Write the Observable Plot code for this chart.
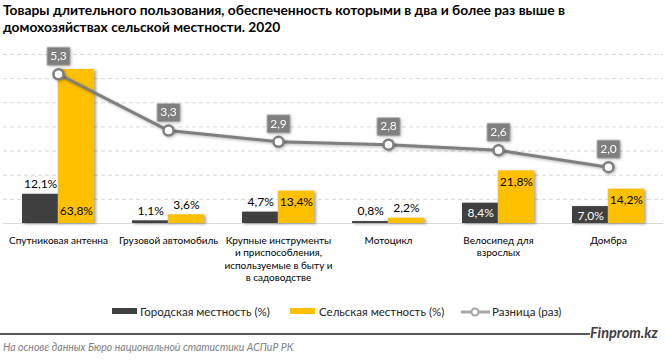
<!DOCTYPE html>
<html><head><meta charset="utf-8">
<script src="https://cdn.jsdelivr.net/npm/d3@7"></script>
<script src="https://cdn.jsdelivr.net/npm/@observablehq/plot@0.6"></script>
<style>
body{margin:0;background:#fff;font-family:Lato,"Open Sans",sans-serif;}
#wrap{position:relative;width:665px;height:360px;overflow:hidden;background:#fff;}
#title{position:absolute;left:3px;top:2px;font-weight:bold;font-size:13.8px;line-height:16.6px;color:#000;white-space:nowrap;}
#chart{position:absolute;left:0;top:40px;}
#chart g[aria-label="bar"]{filter:drop-shadow(2px 1px 1.5px rgba(0,0,0,0.35));}
#chart g[aria-label="line"], #chart g[aria-label="dot"]{filter:drop-shadow(1.5px 1.5px 1.5px rgba(0,0,0,0.3));}
.leg{position:absolute;font-size:11.5px;color:#262626;white-space:nowrap;line-height:14px;}
.sw{position:absolute;height:6px;width:25px;}
#foot{position:absolute;left:0;top:333px;width:590px;height:2px;background:#595959;}
#brand{position:absolute;left:590px;top:324px;font-weight:bold;font-style:italic;font-size:14.5px;color:#404040;}
#src{position:absolute;left:3px;top:341px;font-style:italic;font-size:10.5px;color:#808080;white-space:nowrap;}
</style></head><body>
<div id="wrap">
<div id="title">Товары длительного пользования, обеспеченность которыми в два и более раз выше в<br>домохозяйствах сельской местности. 2020</div>
<div id="chart"></div>
<div class="sw" style="left:112px;top:308px;background:#404040"></div>
<div class="leg" style="left:140px;top:305px">Городская местность (%)</div>
<div class="sw" style="left:290px;top:308px;background:#ffc000"></div>
<div class="leg" style="left:319px;top:305px">Сельская местность (%)</div>
<svg style="position:absolute;left:460px;top:305px" width="32" height="14"><line x1="1" y1="7" x2="30" y2="7" stroke="#a6a6a6" stroke-width="3"/><circle cx="15" cy="7" r="3.5" fill="#fff" stroke="#a6a6a6" stroke-width="2"/></svg>
<div class="leg" style="left:492px;top:305px">Разница (раз)</div>
<div id="foot"></div>
<div id="brand">Finprom.kz</div>
<div id="src">На основе данных Бюро национальной статистики АСПиР РК</div>
</div>
<script>
const categories = ["Спутниковая антенна","Грузовой автомобиль","Крупные инструменты и приспособления, используемые в быту и в садоводстве","Мотоцикл","Велосипед для взрослых","Домбра"];
const categoryLabels = ["Спутниковая антенна","Грузовой автомобиль","Крупные инструменты\nи приспособления,\nиспользуемые в быту и\nв садоводстве","Мотоцикл","Велосипед для\nвзрослых","Домбра"];
const urban = [12.1, 1.1, 4.7, 0.8, 8.4, 7.0];
const rural = [63.8, 3.6, 13.4, 2.2, 21.8, 14.2];
const ratio = [5.3, 3.3, 2.9, 2.8, 2.6, 2.0];
const urbanLabelPos = ["above","above","above","above","inside","inside"];
const ruralLabelPos = ["base","above","inside","above","inside","inside"];
const gridTicks = [10, 20, 30, 40, 50, 60, 70];
const barMax = 70;
const ratioMax = 6;

const rows = categories.map((c, i) => ({
  cat: c, urban: urban[i], rural: rural[i], ratio: ratio[i],
  ratioY: ratio[i] * barMax / ratioMax,
  uPos: urbanLabelPos[i], rPos: ruralLabelPos[i]
}));
const fmt = v => d3.format(".1f")(v).replace(".", ",");

const W = 665, ML = 3, MR = 2;
const step = (W - ML - MR) / categories.length;
const bw = step * 0.65;
const half = bw / 2, q = bw / 4;

const boxSymbol = {draw(ctx) { ctx.rect(-11.5, -9, 23, 18); }};
const font = "Lato, 'Open Sans', sans-serif";

const chart = Plot.plot({
  width: W, height: 250,
  marginTop: 14, marginBottom: 67, marginLeft: ML, marginRight: MR,
  style: {fontFamily: font, fontSize: "12px", color: "#000", background: "transparent"},
  x: {domain: categories, paddingInner: 0.35, paddingOuter: 0.175},
  y: {domain: [0, barMax], axis: null},
  marks: [
    Plot.ruleY(gridTicks, {stroke: "#d9d9d9", strokeDasharray: "4,3"}),
    Plot.ruleY([0], {stroke: "#d9d9d9", strokeWidth: 1}),
    Plot.barY(rows, {x: "cat", y: "urban", fill: "#404040", insetRight: half}),
    Plot.barY(rows, {x: "cat", y: "rural", fill: "#ffc000", insetLeft: half}),
    Plot.lineY(rows, {x: "cat", y: "ratioY", stroke: "#7f7f7f", strokeWidth: 3}),
    Plot.dot(rows, {x: "cat", y: "ratioY", r: 5, fill: "#fff", stroke: "#7f7f7f", strokeWidth: 2.5}),
    Plot.dot(rows, {x: "cat", y: "ratioY", symbol: boxSymbol, fill: "#7f7f7f", dy: -18}),
    Plot.text(rows, {x: "cat", y: "ratioY", text: d => fmt(d.ratio), fill: "#fff", dy: -18, fontSize: 12}),
    Plot.text(rows.filter(d => d.uPos === "above"), {x: "cat", y: "urban", text: d => fmt(d.urban) + "%", dx: -q, dy: -10, fill: "#000"}),
    Plot.text(rows.filter(d => d.uPos === "inside"), {x: "cat", y: "urban", text: d => fmt(d.urban) + "%", dx: -q, dy: 10, fill: "#fff"}),
    Plot.text(rows.filter(d => d.rPos === "above"), {x: "cat", y: "rural", text: d => fmt(d.rural) + "%", dx: q, dy: -10, fill: "#000"}),
    Plot.text(rows.filter(d => d.rPos === "inside"), {x: "cat", y: "rural", text: d => fmt(d.rural) + "%", dx: q, dy: 11, fill: "#000"}),
    Plot.text(rows.filter(d => d.rPos === "base"), {x: "cat", y: 0, text: d => fmt(d.rural) + "%", dx: q, dy: -12, fill: "#000"}),
    Plot.axisX({tickSize: 0, tickPadding: 12, fontSize: 10, lineHeight: 1.22, fill: "#000",
      tickFormat: d => categoryLabels[categories.indexOf(d)], label: null})
  ]
});
document.getElementById("chart").appendChild(chart);
</script>
</body></html>
